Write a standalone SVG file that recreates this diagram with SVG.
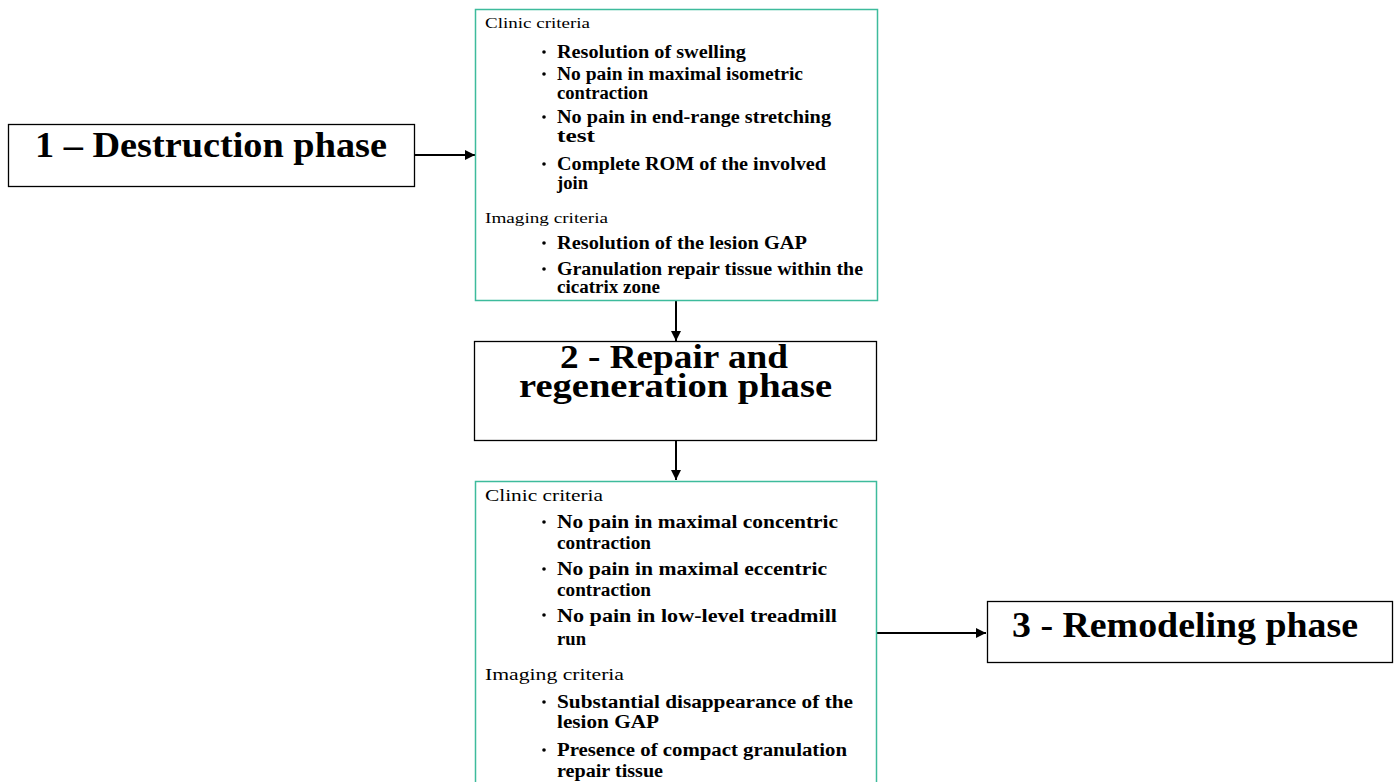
<svg xmlns="http://www.w3.org/2000/svg" width="1398" height="782" viewBox="0 0 1398 782">
<defs>
<marker id="ah" viewBox="0 0 10 10" refX="10" refY="5" markerWidth="5" markerHeight="5" orient="auto" markerUnits="strokeWidth">
<path d="M0,0 L10,5 L0,10 z" fill="#000"/>
</marker>
</defs>
<style>
.phase{fill:#fff;stroke:#000;stroke-width:1.3}
.crit{fill:#fff;stroke:#3dbb9c;stroke-width:1.5}
text{font-family:"Liberation Serif","DejaVu Serif",serif;fill:#000}
.big{font-weight:bold}
.hd{font-size:15px}
.it{font-weight:bold;font-size:18px}
.it3{font-weight:bold;font-size:18.5px}
.hd3{font-size:16px}
.bul{fill:#000}
.conn{stroke:#000;stroke-width:2;fill:none;marker-end:url(#ah)}
</style>
<g id="connectors">
<line class="conn" x1="415" y1="155" x2="475" y2="155"/>
<line class="conn" x1="676" y1="301" x2="676" y2="341"/>
<line class="conn" x1="676" y1="441" x2="676" y2="480"/>
<line class="conn" x1="877" y1="633" x2="986" y2="633"/>
</g>
<g id="phase1">
<rect class="phase" x="8.5" y="124.5" width="406" height="62"/>
<text class="big" font-size="35" x="35" y="157" textLength="352" lengthAdjust="spacingAndGlyphs">1 – Destruction  phase</text>
</g>
<g id="criteria1">
<rect class="crit" x="475.5" y="9.5" width="402" height="291"/>
<text class="hd" x="485" y="27.5" textLength="105" lengthAdjust="spacingAndGlyphs">Clinic  criteria</text>
<g class="bul">
<circle cx="544" cy="52" r="1.8"/>
<circle cx="544" cy="74" r="1.8"/>
<circle cx="544" cy="117" r="1.8"/>
<circle cx="544" cy="164" r="1.8"/>
<circle cx="544" cy="243" r="1.8"/>
<circle cx="544" cy="269" r="1.8"/>
</g>
<text class="it" x="557" y="58" textLength="189" lengthAdjust="spacingAndGlyphs">Resolution  of  swelling</text>
<text class="it" x="557" y="80" textLength="246" lengthAdjust="spacingAndGlyphs">No  pain  in  maximal  isometric</text>
<text class="it" x="557" y="99" textLength="91" lengthAdjust="spacingAndGlyphs">contraction</text>
<text class="it" x="557" y="123" textLength="274" lengthAdjust="spacingAndGlyphs">No  pain  in  end-range  stretching</text>
<text class="it" x="557" y="142" textLength="38" lengthAdjust="spacingAndGlyphs">test</text>
<text class="it" x="557" y="170" textLength="269" lengthAdjust="spacingAndGlyphs">Complete  ROM  of  the  involved</text>
<text class="it" x="557" y="189" textLength="31" lengthAdjust="spacingAndGlyphs">join</text>
<text class="hd" x="485" y="223" textLength="123" lengthAdjust="spacingAndGlyphs">Imaging  criteria</text>
<text class="it" x="557" y="249" textLength="250" lengthAdjust="spacingAndGlyphs">Resolution  of  the  lesion  GAP</text>
<text class="it" x="557" y="275" textLength="306" lengthAdjust="spacingAndGlyphs">Granulation  repair  tissue  within  the</text>
<text class="it" x="557" y="293" textLength="103" lengthAdjust="spacingAndGlyphs">cicatrix  zone</text>
</g>
<g id="phase2">
<rect class="phase" x="474.5" y="341.5" width="402" height="99"/>
<text class="big" font-size="33"><tspan x="560" y="368" textLength="228" lengthAdjust="spacingAndGlyphs">2 - Repair  and</tspan><tspan x="519" y="396.5" textLength="313" lengthAdjust="spacingAndGlyphs">regeneration  phase</tspan></text>
</g>
<g id="criteria2">
<rect class="crit" x="475.5" y="481.5" width="401" height="320"/>
<text class="hd3" x="485" y="501" textLength="118" lengthAdjust="spacingAndGlyphs">Clinic  criteria</text>
<g class="bul">
<circle cx="544" cy="522" r="1.8"/>
<circle cx="544" cy="569" r="1.8"/>
<circle cx="544" cy="615" r="1.8"/>
<circle cx="544" cy="702" r="1.8"/>
<circle cx="544" cy="750" r="1.8"/>
</g>
<text class="it3" x="557" y="528" textLength="281" lengthAdjust="spacingAndGlyphs">No  pain  in  maximal  concentric</text>
<text class="it3" x="557" y="549" textLength="94" lengthAdjust="spacingAndGlyphs">contraction</text>
<text class="it3" x="557" y="575" textLength="270" lengthAdjust="spacingAndGlyphs">No  pain  in  maximal  eccentric</text>
<text class="it3" x="557" y="595.5" textLength="94" lengthAdjust="spacingAndGlyphs">contraction</text>
<text class="it3" x="557" y="621.5" textLength="280" lengthAdjust="spacingAndGlyphs">No  pain  in  low-level   treadmill</text>
<text class="it3" x="557" y="645" textLength="29" lengthAdjust="spacingAndGlyphs">run</text>
<text class="hd3" x="485" y="680" textLength="139" lengthAdjust="spacingAndGlyphs">Imaging  criteria</text>
<text class="it3" x="557" y="708" textLength="296" lengthAdjust="spacingAndGlyphs">Substantial  disappearance  of  the</text>
<text class="it3" x="557" y="728" textLength="102" lengthAdjust="spacingAndGlyphs">lesion  GAP</text>
<text class="it3" x="557" y="756" textLength="290" lengthAdjust="spacingAndGlyphs">Presence  of  compact  granulation</text>
<text class="it3" x="557" y="776.5" textLength="106" lengthAdjust="spacingAndGlyphs">repair tissue</text>
</g>
<g id="phase3">
<rect class="phase" x="987.5" y="601.5" width="405" height="61"/>
<text class="big" font-size="35" x="1012" y="636.5" textLength="346" lengthAdjust="spacingAndGlyphs">3 - Remodeling  phase</text>
</g>
</svg>
